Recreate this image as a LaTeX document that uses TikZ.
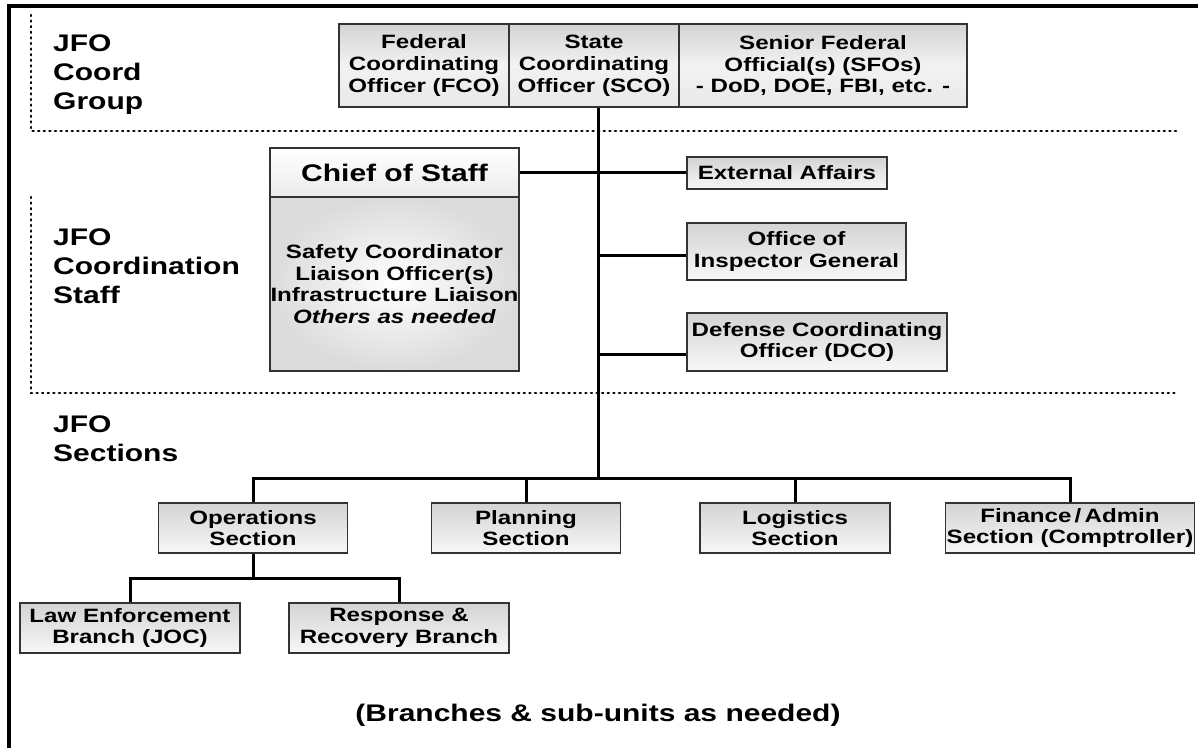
\documentclass[tikz,border=0pt]{standalone}
\usepackage{fontspec}
\setmainfont{Liberation Sans}[FakeStretch=1.25]
\newcommand{\myboxfont}{\fontsize{19.3}{21.8}\selectfont\bfseries}
\newcommand{\mygrpfont}{\fontsize{24}{29}\selectfont\bfseries}
\newcommand{\mychieffont}{\fontsize{24}{28}\selectfont\bfseries}
\begin{document}
\begin{tikzpicture}[x=1pt,y=-1pt,
  box/.style={draw=black!80, line width=1.3pt, inner sep=0pt, align=center,
    font=\myboxfont, top color=black!17, bottom color=black!3},
  topbox/.style={box, top color=black!17, bottom color=black!9, middle color=black!5},
  conn/.style={line width=3pt, black},
  dotline/.style={line width=2.6pt, line cap=round, dash pattern=on 1pt off 4.6pt, black},
  grp/.style={anchor=west, align=left, font=\mygrpfont, inner sep=0pt}]
\useasboundingbox (0,0) rectangle (1198,748);
% frame
\draw[line width=3.6pt] (9,748) -- (9,6) -- (1198,6);
% dotted group outlines
\draw[dotline] (31,15) -- (31,131) -- (1177,131);
\draw[dotline] (31,197) -- (31,393) -- (1177,393);
% group labels
\node[grp] (g1) at (53,75) {JFO\\Coord\\Group};
\node[grp] (g2) at (53,266) {JFO\\Coordination\\Staff};
\node[grp] (g3) at (53,439) {JFO\\Sections};
% top boxes
\node[topbox, minimum width=170, minimum height=83] (fco) at (424,65.5) {Federal\\Coordinating\\Officer (FCO)};
\node[topbox, minimum width=170, minimum height=83] (sco) at (594,65.5) {State\\Coordinating\\Officer (SCO)};
\node[topbox, minimum width=288, minimum height=83] (sfo) at (823,65.5) {Senior Federal\\Official(s) (SFOs)\\- DoD, DOE, FBI, etc. -};
% chief of staff
\node[box, top color=white, bottom color=black!8, minimum width=249, minimum height=49, font=\mychieffont] (chief) at (394.5,172.5) {Chief of Staff};
\node[box, inner color=white, outer color=black!14, minimum width=249, minimum height=174] (staff) at (394.5,284) {Safety Coordinator\\Liaison Officer(s)\\Infrastructure Liaison\\\textit{Others as needed}};
% right staff boxes
\node[box, minimum width=200, minimum height=32] (ea) at (787,173) {External Affairs};
\node[box, minimum width=219, minimum height=57] (oig) at (796.5,251.5) {Office of\\Inspector General};
\node[box, minimum width=260, minimum height=58] (dco) at (817,342) {Defense Coordinating\\Officer (DCO)};
% sections
\node[box, minimum width=189, minimum height=50] (ops) at (253,528) {Operations\\Section};
\node[box, minimum width=189, minimum height=50] (plan) at (526,528) {Planning\\Section};
\node[box, minimum width=190, minimum height=50] (log) at (795,528) {Logistics\\Section};
\node[box, minimum width=249, minimum height=50] (fin) at (1070,528) {Finance\,/\,Admin\\Section (Comptroller)};
% branches
\node[box, minimum width=220, minimum height=50] (law) at (130,628) {Law Enforcement\\Branch (JOC)};
\node[box, minimum width=220, minimum height=50] (resp) at (399,628) {Response \&\\Recovery Branch};
\node[font=\fontsize{24}{28}\selectfont\bfseries, inner sep=0pt] (note) at (598,715) {(Branches \& sub-units as needed)};
% connectors
\coordinate (bus) at (598,478);
\coordinate (oigj) at (598,255);
\coordinate (dcoj) at (598,354);
\draw[conn] (sco.south -| bus) -- (bus);
\draw[conn] (chief.east) -- (chief.east -| ea.west);
\draw[conn] (oigj) -- (oigj -| oig.west);
\draw[conn] (dcoj) -- (dcoj -| dco.west);
\draw[conn] (ops.north) |- (bus) -| (fin.north);
\draw[conn] (plan.north) -- (plan.north |- bus);
\draw[conn] (log.north) -- (log.north |- bus);
\draw[conn] (ops.south) -- ++(0,25) coordinate (sub);
\draw[conn] (law.north) |- (sub) -| (resp.north);
\end{tikzpicture}
\end{document}
